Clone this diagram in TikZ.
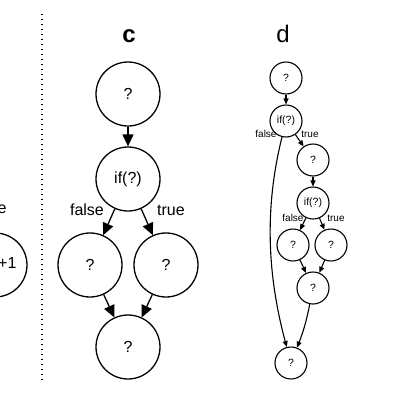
\documentclass[tikz,border=0pt]{standalone}
\usepackage{fontspec}
\setmainfont{Liberation Sans}
\usetikzlibrary{arrows.meta}
\begin{document}
\begin{tikzpicture}[x=1pt,y=1pt,
	big/.style={draw,circle,line width=1.3pt,minimum size=64pt,inner sep=0pt,font=\fontsize{16}{18}\selectfont},
	small/.style={draw,circle,line width=1.1pt,minimum size=32pt,inner sep=0pt,font=\fontsize{10.5}{12}\selectfont},
	bigarr/.style={line width=1.3pt,-{Triangle[length=12pt,width=11pt]}},
	smallarr/.style={line width=1.1pt,-{Triangle[length=6pt,width=5pt]}},
	biglbl/.style={font=\fontsize{16}{18}\selectfont},
	smalllbl/.style={font=\fontsize{10}{12}\selectfont,inner sep=0pt},
	title/.style={font=\fontsize{24}{26}\selectfont,anchor=base}]
	\useasboundingbox (0,0) rectangle (400,-400);
	\clip (0,0) rectangle (400,-400);
	% left panel, cut off
	\node[big] (b1) at (-5,-265) {};
	\node[biglbl,anchor=east] (blbl) at (20,-263) {+1};
	\node[biglbl,anchor=east] (btrue) at (10,-208) {true};
	\draw[line width=1.2pt,dash pattern=on 1.2pt off 3.8pt] (42,-14)--(42,-382);
	% panel c
	\node[title] (ctitle) at (129,-42) {\bfseries c};
	\node[big] (c1) at (128,-94) {?};
	\node[big] (c2) at (128,-179) {if(?)};
	\node[big] (c3) at (90,-265) {?};
	\node[big] (c4) at (166,-265) {?};
	\node[big] (c5) at (128,-347) {?};
	\draw[bigarr] (c1)--(c2);
	\draw[bigarr] (c2)--(c3);
	\draw[bigarr] (c2)--(c4);
	\draw[bigarr] (c3)--(c5);
	\draw[bigarr] (c4)--(c5);
	\node[biglbl] (cfalse) at (87,-210) {false};
	\node[biglbl] (ctrue) at (171,-210) {true};
	% panel d
	\node[title] (dtitle) at (283,-42) {d};
	\node[small] (d1) at (286,-78) {?};
	\node[small] (d2) at (286,-121) {if(?)};
	\node[small] (d3) at (313,-160) {?};
	\node[small] (d4) at (313,-203) {if(?)};
	\node[small] (d5) at (293,-245) {?};
	\node[small] (d6) at (331,-245) {?};
	\node[small] (d7) at (313,-288) {?};
	\node[small] (d8) at (291,-363) {?};
	\draw[smallarr] (d1)--(d2);
	\draw[smallarr] (d2)--(d3);
	\draw[smallarr] (d3)--(d4);
	\draw[smallarr] (d4)--(d5);
	\draw[smallarr] (d4)--(d6);
	\draw[smallarr] (d5)--(d7);
	\draw[smallarr] (d6)--(d7);
	\draw[smallarr] (d7) to[bend left=5] (d8);
	\draw[smallarr] (d2) to[out=-104,in=105,looseness=0.9] (d8);
	\node[smalllbl] (dfalse1) at (266,-134) {false};
	\node[smalllbl] (dtrue1) at (310,-134) {true};
	\node[smalllbl] (dfalse2) at (293,-218) {false};
	\node[smalllbl] (dtrue2) at (336,-218) {true};
\end{tikzpicture}
\end{document}
